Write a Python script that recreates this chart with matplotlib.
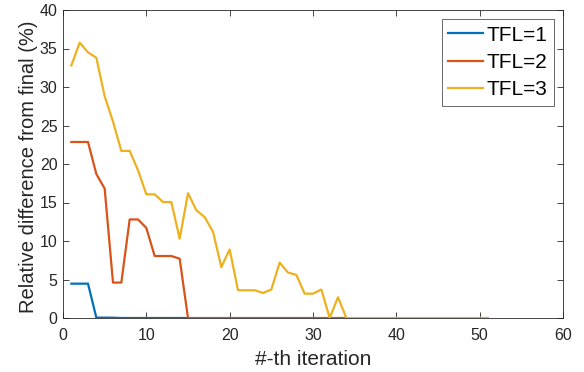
import matplotlib
matplotlib.use("Agg")
import matplotlib.pyplot as plt

plt.rcParams['font.family'] = ['Liberation Sans', 'DejaVu Sans']

tfl1 = [4.46, 4.46, 4.46, 0.05, 0.05, 0.04, 0.0, 0, 0, 0, 0, 0, 0, 0, 0]
tfl2 = [22.86, 22.86, 22.86, 18.7, 16.8, 4.6, 4.6, 12.8, 12.8, 11.7, 8.05, 8.05, 8.05, 7.7,
        0, 0, 0, 0, 0, 0, 0, 0, 0, 0, 0, 0, 0, 0, 0, 0, 0, 0, 0, 0]
tfl3 = [32.8, 35.75, 34.5, 33.8, 28.8, 25.5, 21.7, 21.7, 19.2, 16.06, 16.06, 15.06, 15.06, 10.3,
        16.2, 14.0, 13.1, 11.2, 6.6, 8.9, 3.6, 3.6, 3.6, 3.25, 3.7, 7.2, 5.9, 5.6, 3.16, 3.16,
        3.7, 0, 2.7, 0, 0, 0, 0, 0, 0, 0, 0, 0, 0, 0, 0, 0, 0, 0, 0, 0, 0]
labels = ['TFL=1', 'TFL=2', 'TFL=3']
colors = ['#0072BD', '#D95319', '#EDB120']

fig = plt.figure(figsize=(5.84, 3.72), dpi=100)
ax = fig.add_axes([63 / 584, 54 / 372, 500 / 584, 308 / 372])
for data, lab, c in zip([tfl1, tfl2, tfl3], labels, colors):
    ax.plot(range(1, len(data) + 1), data, color=c, lw=1.6, label=lab)

ax.set_xlim(0, 60)
ax.set_ylim(0, 40)
ax.set_xticks(range(0, 61, 10))
ax.set_yticks(range(0, 41, 5))
ax.tick_params(direction='in', top=True, right=True, labelsize=11.5, length=4, width=0.6,
               color='#262626', labelcolor='#262626')
ax.tick_params(axis='x', pad=7)
ax.tick_params(axis='y', pad=4)
for s in ax.spines.values():
    s.set_linewidth(0.6)
    s.set_color('#262626')
ax.set_xlabel('#-th iteration', fontsize=15, color='#262626', labelpad=5)
ax.set_ylabel('Relative difference from final (%)', fontsize=14.5, color='#262626')
ax.yaxis.set_label_coords(-0.05, 0.49)
leg = ax.legend(loc='upper right', fontsize=15, frameon=True, fancybox=False, edgecolor='#262626',
                handlelength=1.7, handletextpad=0.15, borderpad=0.3, labelspacing=0.4,
                borderaxespad=0.45)
leg.get_frame().set_linewidth(0.6)
fig.savefig('out.png', dpi=100)
